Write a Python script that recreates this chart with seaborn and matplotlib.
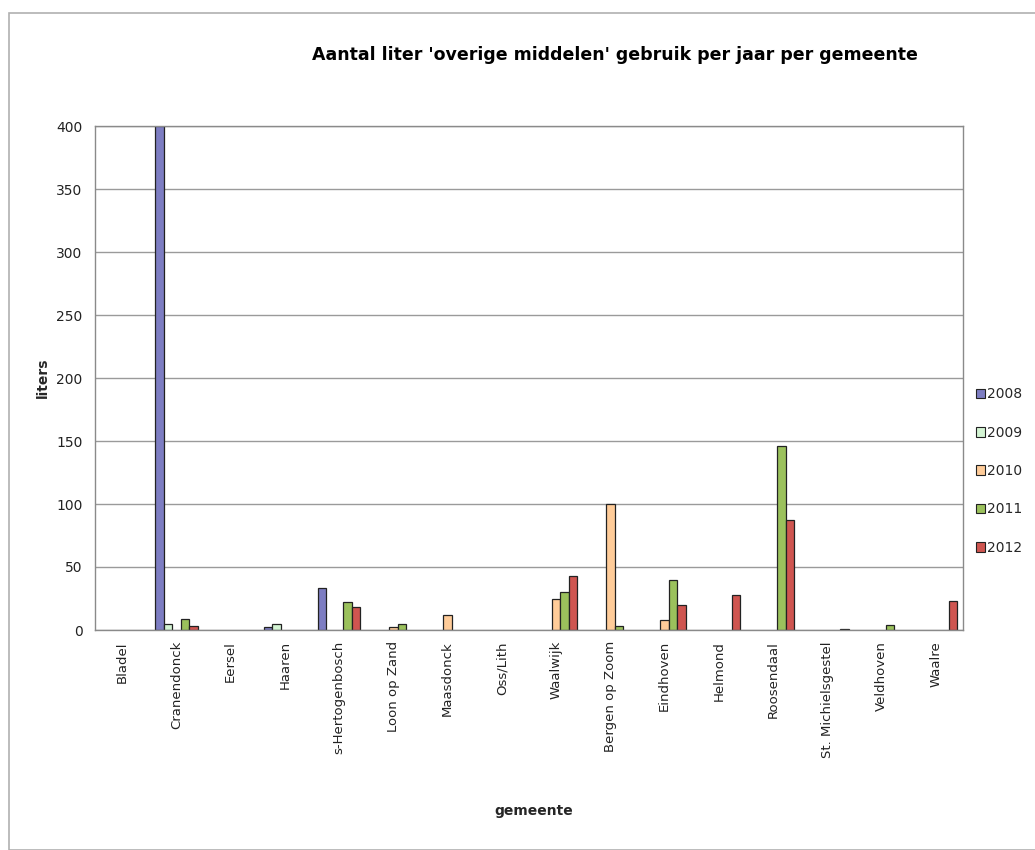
import matplotlib
matplotlib.use("Agg")
import matplotlib.pyplot as plt
import matplotlib.patches as mpatches
import numpy as np
import pandas as pd
import seaborn as sns

gemeenten = ["Bladel", "Cranendonck", "Eersel", "Haaren", "s-Hertogenbosch",
             "Loon op Zand", "Maasdonck", "Oss/Lith", "Waalwijk", "Bergen op Zoom",
             "Eindhoven", "Helmond", "Roosendaal", "St. Michielsgestel",
             "Veldhoven", "Waalre"]
jaren = ["2008", "2009", "2010", "2011", "2012"]

liters_2008 = [0, 400, 0, 2, 33, 0, 0, 0, 0, 0, 0, 0, 0, 0, 0, 0]
liters_2009 = [0, 5, 0, 5, 0, 0, 0, 0, 0, 0, 0, 0, 0, 0, 0, 0]
liters_2010 = [0, 0, 0, 0, 0, 2, 12, 0, 25, 100, 8, 0, 0, 0, 0, 0]
liters_2011 = [0, 9, 0, 0, 22, 5, 0, 0, 30, 3, 40, 0, 146, 0, 4, 0]
liters_2012 = [0, 3, 0, 0, 18, 0, 0, 0, 43, 0, 20, 28, 87, 1, 0, 23]

kleuren = ["#7d7dc2", "#d4f5d4", "#ffcc99", "#9bc15c", "#cf5550"]

series = [liters_2008, liters_2009, liters_2010, liters_2011, liters_2012]
df = pd.DataFrame({
    "gemeente": np.tile(gemeenten, len(jaren)),
    "jaar": np.repeat(jaren, len(gemeenten)),
    "liters": np.concatenate(series),
})
# empty cells are not drawn as bars
df = df[df["liters"] > 0]

sns.set_style("white")
plt.rcParams["font.family"] = ["DejaVu Sans"]

fig = plt.figure(figsize=(10.35, 8.5), dpi=100)
ax = fig.add_axes([95 / 1035, 1 - 630 / 850, (963 - 95) / 1035, (630 - 126) / 850])

# outer frame of the chart sheet
fig.patches.append(mpatches.Rectangle((9 / 1035, 0), 1.0, 1 - 13 / 850,
                                      transform=fig.transFigure, fill=False,
                                      edgecolor="#b0b0b0", linewidth=1.2))

sns.barplot(data=df, x="gemeente", y="liters", hue="jaar", order=gemeenten,
            hue_order=jaren, palette=kleuren, width=0.78, edgecolor="#222222",
            linewidth=0.9, saturation=1, legend=False, ax=ax)

ax.set_ylim(0, 400)
ax.set_xlim(-0.5, len(gemeenten) - 0.5)
ax.set_yticks(np.arange(0, 401, 50))
ax.yaxis.grid(True, color="#9a9a9a", linewidth=1)
ax.set_axisbelow(True)
for s in ax.spines.values():
    s.set_color("#8a8a8a")
    s.set_linewidth(1)

ax.set_xticks(np.arange(len(gemeenten)))
ax.set_xticklabels(gemeenten, rotation=90, fontsize=9.5, color="#222222")
ax.tick_params(axis="x", length=0, pad=8)
ax.set_xticks(np.arange(-0.5, len(gemeenten)), minor=True)
ax.tick_params(axis="x", which="minor", length=4, color="#8a8a8a", width=1)
ax.tick_params(axis="y", length=5, color="#8a8a8a", width=1, labelsize=10,
               labelcolor="#222222", pad=4)

ax.set_xlabel("gemeente", fontsize=10, fontweight="bold")
ax.xaxis.set_label_coords(0.505, -0.345)
ax.set_ylabel("liters", fontsize=10, fontweight="bold")
ax.yaxis.set_label_coords(-0.052, 0.5)

fig.text(615 / 1035, 1 - 55 / 850,
         "Aantal liter 'overige middelen' gebruik per jaar per gemeente",
         ha="center", va="center", fontsize=12.5, fontweight="bold", color="black")

handles = [mpatches.Patch(facecolor=c, edgecolor="#222222", linewidth=0.8, label=j)
           for c, j in zip(kleuren, jaren)]
fig.legend(handles=handles, loc="center left",
           bbox_to_anchor=(963 / 1035, 1 - 471 / 850), frameon=False,
           fontsize=10, handlelength=0.7, handleheight=0.7, handletextpad=0.15,
           labelspacing=1.75)

fig.savefig("out.png", dpi=100)
